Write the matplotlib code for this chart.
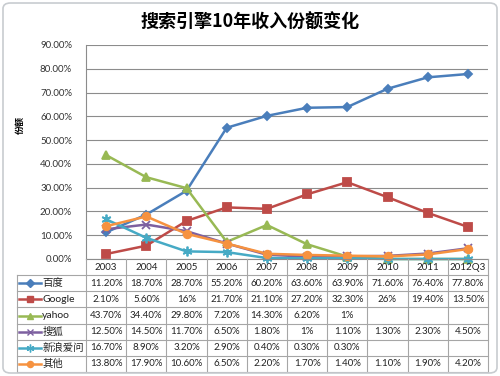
import matplotlib.pyplot as plt
from matplotlib.patches import FancyBboxPatch

plt.rcParams['font.family'] = ['Lato', 'Noto Sans CJK SC', 'DejaVu Sans']

W, H = 500, 376

years = ['2003', '2004', '2005', '2006', '2007', '2008', '2009', '2010', '2011', '2012Q3']
baidu = ['11.20%', '18.70%', '28.70%', '55.20%', '60.20%', '63.60%', '63.90%', '71.60%', '76.40%', '77.80%']
google = ['2.10%', '5.60%', '16%', '21.70%', '21.10%', '27.20%', '32.30%', '26%', '19.40%', '13.50%']
yahoo = ['43.70%', '34.40%', '29.80%', '7.20%', '14.30%', '6.20%', '1%', '', '', '']
sohu = ['12.50%', '14.50%', '11.70%', '6.50%', '1.80%', '1%', '1.10%', '1.30%', '2.30%', '4.50%']
sina = ['16.70%', '8.90%', '3.20%', '2.90%', '0.40%', '0.30%', '0.30%', '', '', '']
other = ['13.80%', '17.90%', '10.60%', '6.50%', '2.20%', '1.70%', '1.40%', '1.10%', '1.90%', '4.20%']

series = [
    ('百度', baidu, '#4A7EBB', 'D', 4.5),
    ('Google', google, '#BE4B48', 's', 5.5),
    ('yahoo', yahoo, '#98B954', '^', 6),
    ('搜狐', sohu, '#7D60A0', 'x', 6),
    ('新浪爱问', sina, '#46AAC5', (6, 2, 0), 7),
    ('其他', other, '#F69240', 'o', 5.5),
]


def to_num(s):
    # blank cells are drawn as zero, as Excel does
    return float(s.rstrip('%')) / 100 if s else 0.0


fig = plt.figure(figsize=(W / 100, H / 100), dpi=100, facecolor='white')

border = FancyBboxPatch((0.006, 0.008), 0.988, 0.984, transform=fig.transFigure,
                        boxstyle='round,pad=0,rounding_size=0.015',
                        facecolor='none', edgecolor='#C8CCD0', lw=1.2)
fig.patches.append(border)

fig.text(0.5, 1 - 22 / H, '搜索引擎10年收入份额变化', ha='center', va='center',
         fontsize=13, fontweight='bold', family=['Noto Sans CJK SC'])
fig.text(20 / W, 1 - 125 / H, '份额', rotation=90, ha='center', va='center',
         fontsize=6.5, fontweight='bold', family=['Noto Sans CJK SC'])

left, right, top, bottom = 86, 488, 45, 259
ax = fig.add_axes([left / W, 1 - bottom / H, (right - left) / W, (bottom - top) / H])
x = list(range(len(years)))
for name, vals, color, mk, ms in series:
    ax.plot(x, [to_num(v) for v in vals], color=color, lw=1.8, marker=mk, ms=ms,
            mec=color, mfc=color, mew=1.3, clip_on=False)
ax.set_xlim(-0.5, len(years) - 0.5)
ax.set_ylim(0, 0.9)
ax.set_yticks([i / 10 for i in range(10)])
ax.set_yticklabels(['%.2f%%' % (i * 10) for i in range(10)], fontsize=7, color='#333333')
ax.tick_params(axis='y', length=0, pad=10)
ax.set_xticks([])
ax.grid(axis='y', color='#8C8C8C', lw=0.8)
ax.set_axisbelow(True)
for s in ['top', 'right']:
    ax.spines[s].set_visible(False)
for s in ['left', 'bottom']:
    ax.spines[s].set_color('#8C8C8C')
    ax.spines[s].set_linewidth(0.8)

# data table below the plot
tleft, tbottom = 17, 372
cat_w = (right - left) / len(years)
xl = -0.5 - (left - tleft) / cat_w
nrows = len(series) + 1
tab = fig.add_axes([tleft / W, 1 - tbottom / H, (right - tleft) / W, (tbottom - bottom) / H])
tab.set_xlim(xl, len(years) - 0.5)
tab.set_ylim(nrows, 0)
tab.axis('off')
gc = '#A6A6A6'
for r in range(1, nrows + 1):
    tab.plot([xl, len(years) - 0.5], [r, r], color=gc, lw=0.8, clip_on=False)
for i in range(len(years) + 1):
    tab.plot([i - 0.5, i - 0.5], [0, nrows], color=gc, lw=0.8, clip_on=False)
tab.plot([xl, xl], [1, nrows], color=gc, lw=0.8, clip_on=False)

for i, yr in enumerate(years):
    tab.text(i, 0.5, yr, ha='center', va='center', fontsize=7, color='#222222')
for r, (name, vals, color, mk, ms) in enumerate(series):
    yc = r + 1.5
    for i, v in enumerate(vals):
        tab.text(i, yc, v, ha='center', va='center', fontsize=7, color='#222222')
    k0, k1 = xl + 0.05, xl + 0.6
    tab.plot([k0, (k0 + k1) / 2, k1], [yc] * 3, color=color, lw=1.8, marker=mk,
             ms=ms * 0.8, mec=color, mfc=color, markevery=[1], clip_on=False)
    tab.text(xl + 0.63, yc, name, ha='left', va='center', fontsize=7.5, color='#222222')

fig.savefig('out.png', dpi=100, facecolor='white')
